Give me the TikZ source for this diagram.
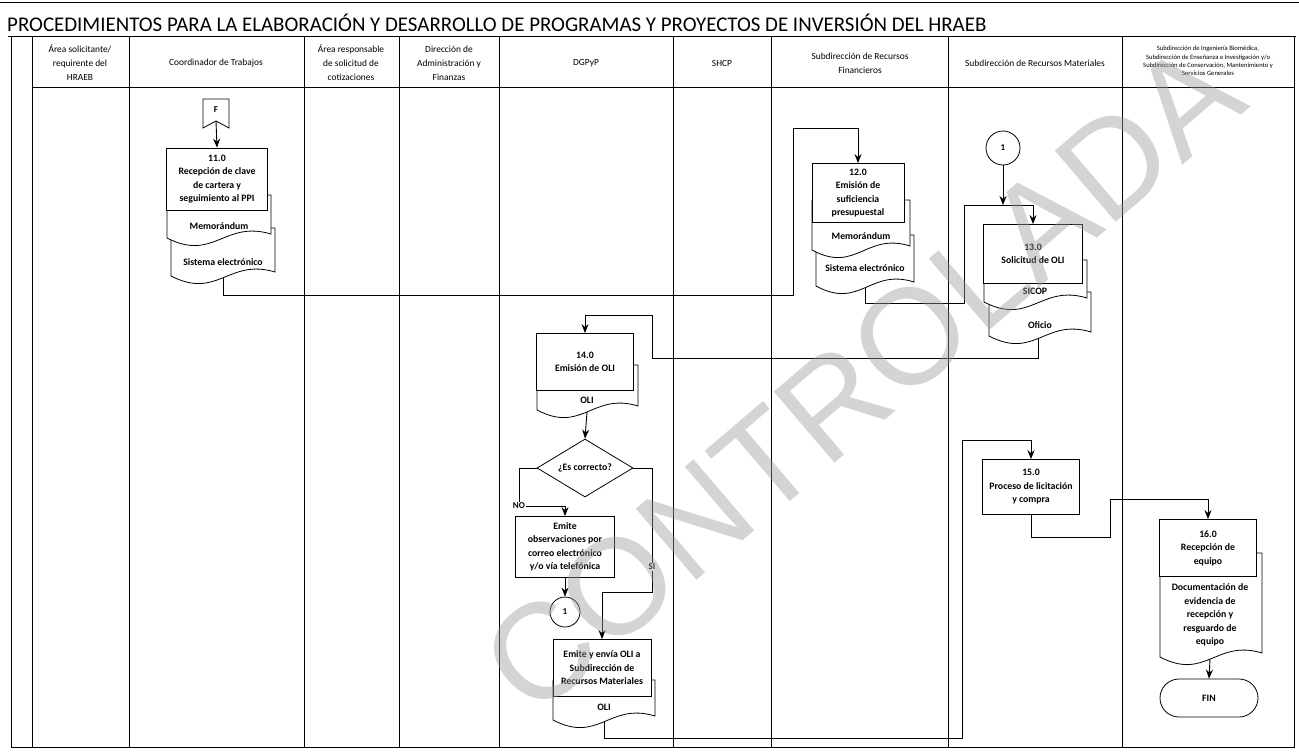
\documentclass[tikz,border=0pt]{standalone}
\usepackage{fontspec}
\setmainfont{Carlito}
\newfontfamily\wmfont{Liberation Sans}
\usetikzlibrary{arrows.meta,shapes.geometric}

\tikzset{
  flow/.style={draw=black, line width=0.9pt, -{Stealth[length=9pt,width=7pt]}},
  conn/.style={draw=black, line width=0.9pt},
  lane/.style={draw=black, line width=1pt},
  procbox/.style={draw=black, line width=0.8pt, fill=white, align=center, inner sep=1pt,
    font=\bfseries\fontsize{9.8}{13.5}\selectfont},
  docline/.style={draw=black, line width=0.8pt, fill=white},
  doctext/.style={align=center, inner sep=0pt, font=\bfseries\fontsize{9.8}{13.5}\selectfont},
  hdr/.style={align=center, inner sep=0pt, font=\fontsize{9.4}{14}\selectfont},
  onpage/.style={circle, draw=black, line width=0.8pt, fill=white, inner sep=0pt,
    font=\bfseries\fontsize{9}{10}\selectfont},
  lbl/.style={inner sep=1pt, font=\bfseries\fontsize{9}{10}\selectfont}
}

% document sheet with wavy bottom: x1, x2, top, bottom-left
\newcommand{\docsheet}[4]{%
  \path[docline] (#1,#3) -- (#2,#3) -- (#2,{#4-4})
    .. controls ({#2-0.45*(#2-#1)},{#4-18}) and ({#1+0.45*(#2-#1)},{#4+24}) .. (#1,#4) -- cycle;}

\begin{document}
\begin{tikzpicture}[x=1pt,y=-1pt]
\useasboundingbox (0,0) rectangle (1299,752);
% frame and lanes
\draw[lane] (0,3) -- (1299,3);
\node[anchor=west, inner sep=0pt, font=\fontsize{20.9}{24}\selectfont] (title) at (7,23)
  {PROCEDIMIENTOS PARA LA ELABORACIÓN Y DESARROLLO DE PROGRAMAS Y PROYECTOS DE INVERSIÓN DEL HRAEB};
\draw[lane] (8,37) -- (1296,37);
\draw[lane] (11,37) rectangle (1294,747);
\draw[lane] (32,88) -- (1294,88);
\foreach \xx in {32,129,304,399,499,673,771,948,1122}
  \draw[lane] (\xx,37) -- (\xx,747);

% headers
\node[hdr] (h1) at (80,63) {Área solicitante/\\requirente del\\HRAEB};
\node[hdr] (h2) at (216,63) {Coordinador de Trabajos};
\node[hdr] (h3) at (351,63) {Área responsable\\de solicitud de\\cotizaciones};
\node[hdr] (h4) at (449,63) {Dirección de\\Administración y\\Finanzas};
\node[hdr] (h5) at (586,63) {DGPyP};
\node[hdr] (h6) at (722,63) {SHCP};
\node[hdr] (h7) at (860,63) {Subdirección de Recursos\\Financieros};
\node[hdr] (h8) at (1035,63) {Subdirección de Recursos Materiales};
\node[hdr, font=\fontsize{6.6}{8.4}\selectfont] (h9) at (1208,61)
  {Subdirección de Ingeniería Biomédica,\\Subdirección de Enseñanza e Investigación y/o\\Subdirección de Conservación, Mantenimiento y\\Servicios Generales};

% Coordinador de Trabajos
\path[docline] (203,99) -- (229,99) -- (229,128) -- (216,121) -- (203,128) -- cycle;
\node[lbl] (f) at (216,110) {F};
\coordinate (fn) at (216,121);
\docsheet{171}{275}{228}{276}
\docsheet{167}{271}{195}{238}
\node[procbox, minimum width=101pt, minimum height=62pt] (b11) at (217,179)
  {11.0\\Recepción de clave\\de cartera y\\seguimiento al PPI};
\node[doctext] (m11) at (219,226) {Memorándum};
\node[doctext] (s11) at (223,262) {Sistema electrónico};
\coordinate (o11) at (223,278);
\draw[flow] (fn) -- (b11.north);

% Subdireccion de Recursos Financieros
\docsheet{816}{914}{235}{286}
\docsheet{812}{910}{200}{250}
\node[procbox, minimum width=92pt, minimum height=59pt] (b12) at (858,193)
  {12.0\\Emisión de\\suficiencia\\presupuestal};
\node[doctext] (m12) at (861,236) {Memorándum};
\node[doctext] (s12) at (865,268) {Sistema electrónico};
\coordinate (o12) at (865,288);
\draw[flow] (o11) |- (793,295) |- (858,128) -- (b12.north);

% Subdireccion de Recursos Materiales
\node[onpage, minimum size=34pt] (c1a) at (1003,148) {1};
\coordinate (j13) at (1003,205);
\docsheet{989}{1091}{292}{336}
\docsheet{984}{1087}{260}{302}
\node[procbox, minimum width=99pt, minimum height=59pt] (b13) at (1033,254)
  {13.0\\Solicitud de OLI};
\node[doctext] (p13) at (1035,291) {SICOP};
\node[doctext] (q13) at (1040,325) {Oficio};
\coordinate (o13) at (1038,338);
\draw[flow] (o12) |- (964,303) |- (1033,205) -- (b13.north);
\draw[flow] (c1a) -- (j13);

% DGPyP
\docsheet{537}{638}{365}{410}
\node[procbox, minimum width=97pt, minimum height=57pt] (b14) at (585,362)
  {14.0\\Emisión de OLI};
\node[doctext] (d14) at (587,400) {OLI};
\coordinate (o14) at (587,412);
\draw[flow] (o13) |- (652,358) |- (585,315) -- (b14.north);
\node[diamond, draw=black, line width=0.8pt, fill=white, aspect=1.65, inner sep=0pt,
  minimum width=96pt, minimum height=58pt, font=\bfseries\fontsize{9.8}{11}\selectfont] (dia) at (585,468) {¿Es correcto?};
\draw[flow] (o14) -- (dia.north);
\node[lbl] (no) at (519,506) {NO};
\node[procbox, minimum width=99pt, minimum height=61pt] (obs) at (565,547)
  {Emite\\observaciones por\\correo electrónico\\y/o vía telefónica};
\draw[conn] (dia.west) -| (no.north);
\draw[flow] (no.east) -| (obs.north);
\node[onpage, minimum size=30pt] (c1b) at (565,612) {1};
\draw[flow] (obs.south) -- (c1b.north);
\node[lbl] (si) at (652,567) {SI};
\draw[conn] (dia.east) -| (si.north);
\docsheet{553}{655}{680}{720}
\node[procbox, minimum width=98pt, minimum height=57pt] (env) at (602,668)
  {Emite y envía OLI a\\Subdirección de\\Recursos Materiales};
\node[doctext] (d15) at (604,707) {OLI};
\coordinate (oenv) at (604,722);
\draw[flow] (si.south) |- (602,592) -- (env.north);

% licitacion y recepcion
\node[procbox, minimum width=97pt, minimum height=55pt] (b15) at (1031,487)
  {15.0\\Proceso de licitación\\y compra};
\draw[flow] (oenv) |- (962,738) |- (1031,440) -- (b15.north);
\docsheet{1160}{1262}{553}{657}
\node[procbox, minimum width=97pt, minimum height=57pt] (b16) at (1208,548)
  {16.0\\Recepción de\\equipo};
\node[doctext] (d16) at (1210,615)
  {Documentación de\\evidencia de\\recepción y\\resguardo de\\equipo};
\coordinate (o16) at (1210,659);
\draw[flow] (b15.south) |- (1110,537) |- (1208,499) -- (b16.north);
\node[draw=black, line width=0.8pt, fill=white, rounded corners=19pt, minimum width=98pt,
  minimum height=38pt, font=\bfseries\fontsize{9.8}{11}\selectfont] (fin) at (1209,698) {FIN};
\draw[flow] (o16) -- (fin.north);

% sello
\node[rotate=40.5, inner sep=0pt, text=gray!80, opacity=0.42,
  font=\wmfont\fontsize{136}{136}\selectfont] (sello) at (862,378) {CONTROLADA};
\end{tikzpicture}
\end{document}
